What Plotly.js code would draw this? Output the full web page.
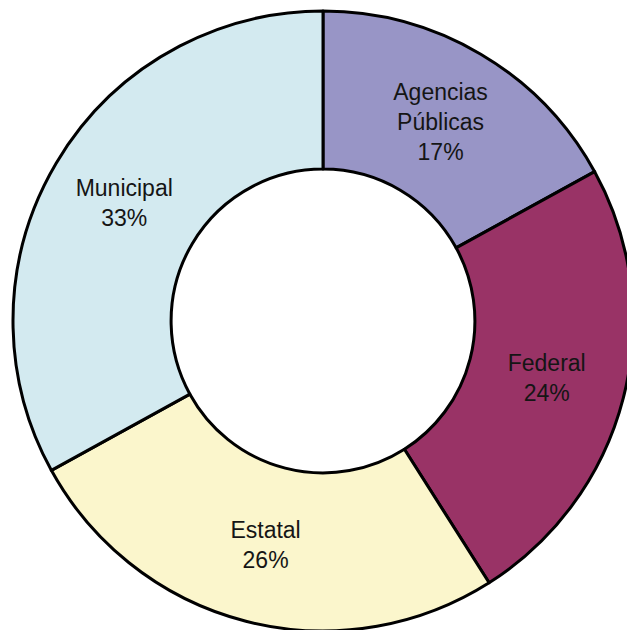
<!DOCTYPE html>
<html>
<head>
<meta charset="utf-8">
<script src="https://cdn.plot.ly/plotly-3.0.1.min.js"></script>
<style>
html, body { margin: 0; padding: 0; overflow: hidden; background: #ffffff; }
#chart { width: 640px; height: 640px; }
</style>
</head>
<body>
<div id="chart"></div>
<script>
const categories = ["Agencias<br>Públicas", "Federal", "Estatal", "Municipal"];
const shares = [17, 24, 26, 33];
const sliceColors = ["#9895C6", "#993366", "#FBF6CC", "#D3EAF0"];

const W = 640, H = 640;
const cx = 323, cy = 321, R = 310;

const trace = {
  type: "pie",
  labels: categories,
  values: shares,
  sort: false,
  direction: "clockwise",
  rotation: 0,
  hole: 0.49,
  marker: { colors: sliceColors, line: { color: "#000000", width: 3 } },
  texttemplate: "%{label}<br>%{percent:.0%}",
  textposition: "inside",
  insidetextorientation: "horizontal",
  textfont: { family: "Liberation Sans, Arial, sans-serif", size: 23, color: "#151515" },
  hoverinfo: "none",
  showlegend: false,
  domain: {
    x: [(cx - R) / W, (cx + R) / W],
    y: [(H - cy - R) / H, (H - cy + R) / H]
  }
};

Plotly.newPlot("chart", [trace], {
  width: W,
  height: H,
  margin: { l: 0, r: 0, t: 0, b: 0 },
  paper_bgcolor: "#ffffff",
  showlegend: false
}, { displayModeBar: false, staticPlot: true });
</script>
</body>
</html>
